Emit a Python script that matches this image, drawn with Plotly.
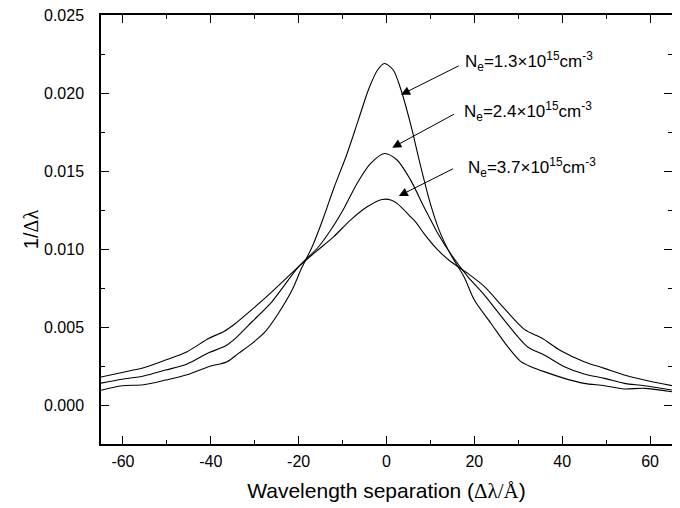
import plotly.graph_objects as go

# ---- data ----
x_ne13 = [-65, -60.2, -55.3, -50.3, -45.4, -40.5, -36.3, -33.7, -30.6, -27.6, -24.6, -21.5,
          -19.3, -17.0, -14.5, -12.0, -9.0, -6.5, -4.0, -2.0, -0.5, 1.5, 3.2, 5.5, 7.7, 10.0,
          12.0, 14.7, 17.7, 20.0, 23.8, 27.6, 30.6, 32.9, 35.9, 40.5, 45.0, 49.6, 54.1, 58.7, 65]
y_ne13 = [0.00095, 0.00124, 0.00130, 0.00160, 0.00194, 0.00246, 0.00278, 0.00331, 0.00395,
          0.00470, 0.00588, 0.00737, 0.00880, 0.01010, 0.01190, 0.01390, 0.01610, 0.01820,
          0.02030, 0.02150, 0.02190, 0.02150, 0.02030, 0.01800, 0.01540, 0.01290, 0.01120,
          0.00960, 0.00820, 0.00673, 0.00523, 0.00374, 0.00278, 0.00246, 0.00214, 0.00171,
          0.00139, 0.00124, 0.00103, 0.00107, 0.00085]

x_ne24 = [-65, -60.2, -55.3, -50.3, -45.4, -40.5, -36.7, -34.4, -30.6, -26.1, -20.0, -15.6,
          -12.5, -9.7, -6.7, -3.6, -0.45, 2.4, 5.5, 8.5, 10.2, 11.5, 14.6, 18.5, 22.3, 26.8,
          32.1, 35.9, 40.5, 45.0, 49.6, 54.1, 58.7, 65]
y_ne24 = [0.00140, 0.00165, 0.00186, 0.00224, 0.00263, 0.00335, 0.00378, 0.00427, 0.00534,
          0.00662, 0.00887, 0.01010, 0.01130, 0.01260, 0.01421, 0.01549, 0.01613, 0.01571,
          0.01442, 0.01271, 0.01180, 0.01110, 0.00970, 0.00823, 0.00705, 0.00545, 0.00374,
          0.00321, 0.00246, 0.00199, 0.00171, 0.00139, 0.00124, 0.00096]

x_ne37 = [-65, -60.2, -55.3, -50.3, -45.4, -40.5, -37.1, -34.4, -30.6, -26.1, -20.0, -15.8,
          -12.0, -8.2, -4.4, -1.0, 1.0, 2.4, 5.5, 6.75, 8.5, 11.5, 14.6, 18.5, 22.3, 26.8,
          31.4, 35.5, 39.7, 45.0, 49.6, 54.1, 58.7, 65]
y_ne37 = [0.00180, 0.00209, 0.00239, 0.00288, 0.00342, 0.00427, 0.00470, 0.00523, 0.00613,
          0.00726, 0.00887, 0.00990, 0.01080, 0.01186, 0.01271, 0.01318, 0.01315, 0.01293,
          0.01207, 0.01170, 0.01101, 0.01000, 0.00920, 0.00844, 0.00759, 0.00620, 0.00485,
          0.00427, 0.00348, 0.00278, 0.00235, 0.00192, 0.00160, 0.00124]

labels = ["N<sub>e</sub>=1.3×10<sup>15</sup>cm<sup>-3</sup>",
          "N<sub>e</sub>=2.4×10<sup>15</sup>cm<sup>-3</sup>",
          "N<sub>e</sub>=3.7×10<sup>15</sup>cm<sup>-3</sup>"]
label_x = [17.5, 17.2, 18.2]
label_y = [0.0220, 0.0188, 0.0152]
arrow_tail_x = [16.8, 15.7, 15.5]
arrow_tail_y = [0.0218, 0.0187, 0.0152]
arrow_tip_x = [3.3, 1.3, 2.8]
arrow_tip_y = [0.0199, 0.0165, 0.0134]

x_tickvals = [-60, -40, -20, 0, 20, 40, 60]
x_ticktext = ["-60", "-40", "-20", "0", "20", "40", "60"]
y_tickvals = [0.000, 0.005, 0.010, 0.015, 0.020, 0.025]
y_ticktext = ["0.000", "0.005", "0.010", "0.015", "0.020", "0.025"]

x_range = [-65, 65]
y_range = [-0.0025, 0.02501]

FONT = "Arial, 'Liberation Sans', sans-serif"
SERIF = "Liberation Serif, Times New Roman, serif"

fig = go.Figure()
for xs, ys in [(x_ne13, y_ne13), (x_ne24, y_ne24), (x_ne37, y_ne37)]:
    fig.add_trace(go.Scatter(x=xs, y=ys, mode="lines",
                             line=dict(color="black", width=1.1, shape="spline", smoothing=0.8),
                             showlegend=False, hoverinfo="skip"))

for i in range(3):
    fig.add_annotation(x=arrow_tip_x[i], y=arrow_tip_y[i], ax=arrow_tail_x[i], ay=arrow_tail_y[i],
                       xref="x", yref="y", axref="x", ayref="y", text="",
                       showarrow=True, arrowhead=2, arrowsize=1.8, arrowwidth=1,
                       arrowcolor="black", standoff=0)
    fig.add_annotation(x=label_x[i], y=label_y[i], xref="x", yref="y", text=labels[i],
                       showarrow=False, xanchor="left", yanchor="middle",
                       font=dict(family=FONT, size=17, color="black"))

axis_common = dict(showline=True, linecolor="black", linewidth=1.5, mirror="ticks",
                   ticks="inside", ticklen=8, tickwidth=1.2, tickcolor="black",
                   showgrid=False, zeroline=False, ticklabeloverflow="allow",
                   tickfont=dict(family=FONT, size=16, color="black"))

fig.update_xaxes(range=x_range, tickmode="array", tickvals=x_tickvals, ticktext=x_ticktext,
                 minor=dict(dtick=10, tick0=0, ticks="inside", ticklen=4, tickcolor="black", tickwidth=1.2),
                 ticklabelstandoff=2,
                 title=dict(text="Wavelength separation (<span style=\"font-family:" + SERIF + "\">Δλ/Å</span>)",
                            font=dict(family=FONT, size=21, color="black"), standoff=14),
                 **axis_common)
fig.update_yaxes(range=y_range, tickmode="array", tickvals=y_tickvals, ticktext=y_ticktext,
                 minor=dict(dtick=0.0025, tick0=0, ticks="inside", ticklen=4, tickcolor="black", tickwidth=1.2),
                 ticklabelstandoff=12,
                 title=dict(text="1/<span style=\"font-family:" + SERIF + "\">Δλ</span>",
                            font=dict(family=FONT, size=20, color="black"), standoff=0),
                 **axis_common)

# the page body adds an 8px offset; size the figure so the frame lands where the reference has it
fig.update_layout(width=672, height=500, margin=dict(l=93, r=8, t=7, b=64, autoexpand=False),
                  paper_bgcolor="white", plot_bgcolor="white",
                  font=dict(family=FONT, color="black"))

fig.write_html("out.html")
